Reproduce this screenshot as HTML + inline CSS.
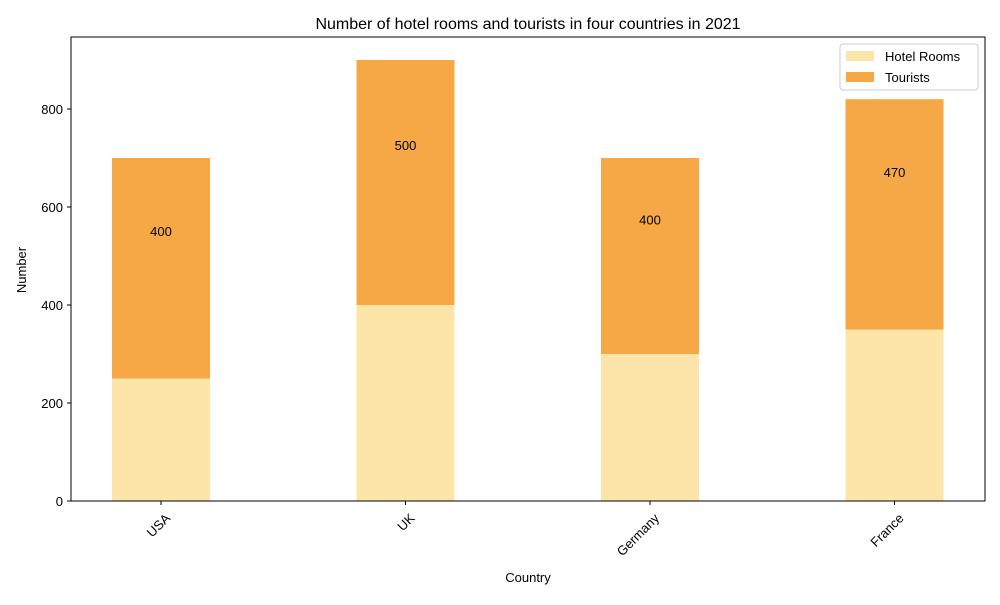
<!DOCTYPE html>
<html><head><meta charset="utf-8"><style>
body{margin:0;background:#fff;font-family:"Liberation Sans","DejaVu Sans",sans-serif}
</style></head><body>
<svg id="c" width="1000" height="600" xmlns="http://www.w3.org/2000/svg"></svg>
<script>
const categories=["USA","UK","Germany","France"];
const hotelRooms=[250,400,300,350];
const tourists=[450,500,400,470];
const touristLabels=["400","500","400","470"];
const labelValues=[551,727,575,671];
const yTicks=[0,200,400,600,800];
const NS="http://www.w3.org/2000/svg";
const svg=document.getElementById('c');
const L=71,R=985,T=37,B=501;
const y=v=>B-v*0.49;
const x=i=>161+i*244.5;
const bw=98;
function el(t,a,txt){const e=document.createElementNS(NS,t);for(const k in a)e.setAttribute(k,a[k]);if(txt!=null)e.textContent=txt;svg.appendChild(e);return e;}
let e=el('text',{x:528,y:29,'text-anchor':'middle','font-size':16},'Number of hotel rooms and tourists in four countries in 2021');


categories.forEach((c,i)=>{
 let h=el('rect',{x:x(i)-bw/2,y:y(hotelRooms[i]),width:bw,height:y(0)-y(hotelRooms[i]),fill:'#fde5aa'});
 
 
 const top=hotelRooms[i]+tourists[i];
 let t=el('rect',{x:x(i)-bw/2,y:y(top),width:bw,height:y(hotelRooms[i])-y(top),fill:'#f5a845'});
 
 
 let lb=el('text',{x:x(i),y:y(labelValues[i])+5,'text-anchor':'middle','font-size':13},touristLabels[i]);
 
 
 el('line',{x1:x(i),x2:x(i),y1:B,y2:B+4,stroke:'#000'});
 let tl=el('text',{x:x(i)+10,y:B+18,'text-anchor':'end','font-size':13,transform:`rotate(-45 ${x(i)+10} ${B+18})`},c);
 
 
});
yTicks.forEach(v=>{
 el('line',{x1:L-4,x2:L,y1:y(v),y2:y(v),stroke:'#000'});
 let t=el('text',{x:L-8,y:y(v)+5,'text-anchor':'end','font-size':13},v);
 
 
});
el('rect',{x:L,y:T,width:R-L,height:B-T,fill:'none',stroke:'#000','stroke-width':1});
e=el('text',{x:528,y:582,'text-anchor':'middle','font-size':13},'Country');


e=el('text',{x:26,y:270,'text-anchor':'middle','font-size':13,transform:'rotate(-90 26 270)'},'Number');


let lg=el('rect',{x:840,y:44,width:138,height:46,fill:'#fff',stroke:'#ccc',rx:3});


el('rect',{x:846,y:51,width:28,height:10,fill:'#fde5aa'});
e=el('text',{x:885,y:61,'font-size':13},'Hotel Rooms');


el('rect',{x:846,y:72,width:28,height:10,fill:'#f5a845'});
e=el('text',{x:885,y:82,'font-size':13},'Tourists');


</script>
</body></html>
